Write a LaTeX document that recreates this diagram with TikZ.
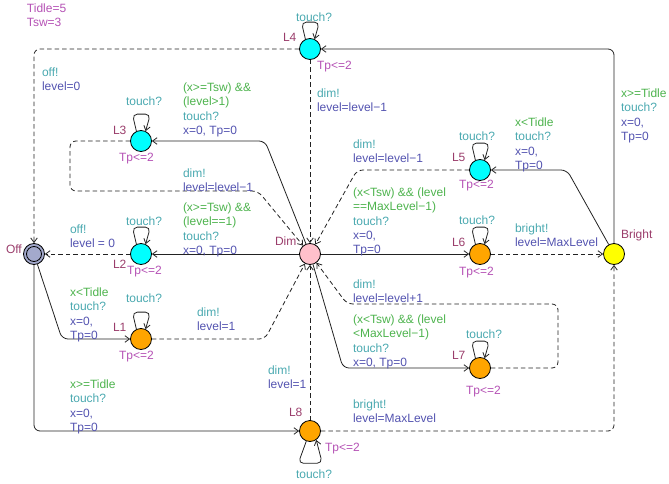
\documentclass[tikz,border=0pt]{standalone}
\usepackage{fontspec}
\setmainfont{Liberation Sans}
\usetikzlibrary{arrows.meta}
\definecolor{nmc}{HTML}{9A3D6B}
\definecolor{inv}{HTML}{B552B5}
\definecolor{grd}{HTML}{4DB34D}
\definecolor{syn}{HTML}{4AA9B0}
\definecolor{asg}{HTML}{5353B0}
\definecolor{offc}{HTML}{A3A9CC}
\definecolor{dimc}{HTML}{FFC0CB}
\definecolor{cyn}{HTML}{00FFFF}
\definecolor{org}{HTML}{FFA500}
\definecolor{ylw}{HTML}{FFFF00}
\definecolor{lnc}{HTML}{222222}
\newcommand\toploop[1]{\draw[conn, rounded corners=5pt] (#1.115) -- ++(-4,-17) -- ++(18,0) -- (#1.65);}
\begin{document}
\begin{tikzpicture}[x=1pt,y=-1pt,
  loc/.style={circle, draw=black, line width=0.8pt, minimum size=21pt, inner sep=0pt},
  txt/.style={anchor=north west, inner sep=0pt, outer sep=0pt, align=left, font=\fontsize{12}{14.3}\selectfont},
  nm/.style={txt, text=nmc},
  iv/.style={txt, text=inv},
  sy/.style={txt, text=syn},
  conn/.style={draw=lnc, line width=0.8pt, -{Straight Barb[length=4.5pt,width=6.5pt]}},
  dsh/.style={conn, dash pattern=on 4.5pt off 3pt},
  rc/.style={rounded corners=6pt}]
\useasboundingbox (0,0) rectangle (669,484);

% locations
\node[loc, fill=offc] (Off) at (34,254) {};
\draw[line width=0.8pt] (Off.center) circle (7.5pt);
\node[loc, fill=cyn] (L2) at (141,254) {};
\node[loc, fill=dimc] (Dim) at (310,254) {};
\node[loc, fill=org] (L6) at (480,254) {};
\node[loc, fill=ylw] (Bright) at (614,254) {};
\node[loc, fill=cyn] (L4) at (310,49) {};
\node[loc, fill=cyn] (L3) at (141,141) {};
\node[loc, fill=cyn] (L5) at (480,170) {};
\node[loc, fill=org] (L1) at (141,339) {};
\node[loc, fill=org] (L7) at (480,368) {};
\node[loc, fill=org] (L8) at (310,431) {};

% declarations
\node[iv] (decl) at (27,4) {Tidle=5\\Tsw=3};

% names, invariants, self-loop labels
\node[nm] (nOff) at (6,245) {Off};
\node[nm] (nDim) at (275,237) {Dim};
\node[nm] (nBr) at (621,230) {Bright};
\node[nm] (nL4) at (283,33) {L4};
\node[sy] (sL4) at (296,13) {touch?};
\node[iv] (iL4) at (317,61) {Tp<=2};
\node[nm] (nL3) at (113,126) {L3};
\node[sy] (sL3) at (126,97) {touch?};
\node[iv] (iL3) at (119,153) {Tp<=2};
\node[nm] (nL2) at (113,260) {L2};
\node[sy] (sL2) at (126,217) {touch?};
\node[iv] (iL2) at (127,266) {Tp<=2};
\node[nm] (nL1) at (113,323) {L1};
\node[sy] (sL1) at (126,294) {touch?};
\node[iv] (iL1) at (119,351) {Tp<=2};
\node[nm] (nL5) at (452,153) {L5};
\node[sy] (sL5) at (459,132) {touch?};
\node[iv] (iL5) at (459,180) {Tp<=2};
\node[nm] (nL6) at (452,238) {L6};
\node[sy] (sL6) at (459,216) {touch?};
\node[iv] (iL6) at (459,267) {Tp<=2};
\node[nm] (nL7) at (452,351) {L7};
\node[sy] (sL7) at (466,330) {touch?};
\node[iv] (iL7) at (466,386) {Tp<=2};
\node[nm] (nL8) at (289,408) {L8};
\node[sy] (sL8) at (296,470) {touch?};
\node[iv] (iL8) at (325,443) {Tp<=2};

% self loops
\toploop{L4}
\toploop{L3}
\toploop{L2}
\toploop{L1}
\toploop{L5}
\toploop{L6}
\toploop{L7}
\draw[conn, rounded corners=5pt] (L8.250) -- ++(-8,22) -- ++(24,0) -- (L8.305);

% edges
\draw[dsh, rc] (L4) -- (34,49) -- (Off);
\draw[conn, rc] (Bright) -- (614,49) -- (L4);
\draw[dsh] (L4) -- (Dim);
\draw[conn, rc] (Dim) -- (265,141) -- (L3);
\draw[dsh, rc] (L3) -- (70,141) -- (70,191) -- (258,191) -- (Dim);
\draw[conn] (Dim) -- (L2);
\draw[dsh] (L2) -- (Off);
\draw[conn, rc] (Off) -- (62,339) -- (L1);
\draw[dsh, rc] (L1) -- (265,339) -- (Dim);
\draw[conn, rc] (Off) -- (34,431) -- (L8);
\draw[dsh] (L8) -- (Dim);
\draw[dsh, rc] (L8) -- (614,431) -- (Bright);
\draw[conn] (Dim) -- (L6);
\draw[dsh] (L6) -- (Bright);
\draw[conn, rc] (Bright) -- (567,170) -- (L5);
\draw[dsh, rc] (L5) -- (357,170) -- (Dim);
\draw[conn, rc] (Dim) -- (343,368) -- (L7);
\draw[dsh, rc] (L7) -- (558,368) -- (558,304) -- (347,304) -- (Dim);

% edge labels
\node[txt] (e1) at (42,68) {\textcolor{syn}{off!}\\\textcolor{asg}{level=0}};
\node[txt] (e2) at (621,89) {\textcolor{grd}{x>=Tidle}\\\textcolor{syn}{touch?}\\\textcolor{asg}{x=0,}\\\textcolor{asg}{Tp=0}};
\node[txt] (e3) at (317,89) {\textcolor{syn}{dim!}\\\textcolor{asg}{level=level−1}};
\node[txt] (e4) at (183,83) {\textcolor{grd}{(x>=Tsw) \&\&}\\\textcolor{grd}{(level>1)}\\\textcolor{syn}{touch?}\\\textcolor{asg}{x=0, Tp=0}};
\node[txt] (e5) at (183,169) {\textcolor{syn}{dim!}\\\textcolor{asg}{level=level−1}};
\node[txt] (e6) at (183,203) {\textcolor{grd}{(x>=Tsw) \&\&}\\\textcolor{grd}{(level==1)}\\\textcolor{syn}{touch?}\\\textcolor{asg}{x=0, Tp=0}};
\node[txt] (e7) at (70,225) {\textcolor{syn}{off!}\\\textcolor{asg}{level = 0}};
\node[txt] (e8) at (70,288) {\textcolor{grd}{x<Tidle}\\\textcolor{syn}{touch?}\\\textcolor{asg}{x=0,}\\\textcolor{asg}{Tp=0}};
\node[txt] (e9) at (197,308) {\textcolor{syn}{dim!}\\\textcolor{asg}{level=1}};
\node[txt] (e10) at (70,380) {\textcolor{grd}{x>=Tidle}\\\textcolor{syn}{touch?}\\\textcolor{asg}{x=0,}\\\textcolor{asg}{Tp=0}};
\node[txt] (e11) at (268,366) {\textcolor{syn}{dim!}\\\textcolor{asg}{level=1}};
\node[txt] (e12) at (353,400) {\textcolor{syn}{bright!}\\\textcolor{asg}{level=MaxLevel}};
\node[txt] (e13) at (353,188) {\textcolor{grd}{(x<Tsw) \&\& (level}\\\textcolor{grd}{==MaxLevel−1)}\\\textcolor{syn}{touch?}\\\textcolor{asg}{x=0,}\\\textcolor{asg}{Tp=0}};
\node[txt] (e14) at (515,224) {\textcolor{syn}{bright!}\\\textcolor{asg}{level=MaxLevel}};
\node[txt] (e15) at (515,118) {\textcolor{grd}{x<Tidle}\\\textcolor{syn}{touch?}\\\textcolor{asg}{x=0,}\\\textcolor{asg}{Tp=0}};
\node[txt] (e16) at (353,140) {\textcolor{syn}{dim!}\\\textcolor{asg}{level=level−1}};
\node[txt] (e17) at (353,315) {\textcolor{grd}{(x<Tsw) \&\& (level}\\\textcolor{grd}{<MaxLevel−1)}\\\textcolor{syn}{touch?}\\\textcolor{asg}{x=0, Tp=0}};
\node[txt] (e18) at (353,280) {\textcolor{syn}{dim!}\\\textcolor{asg}{level=level+1}};
\end{tikzpicture}
\end{document}
